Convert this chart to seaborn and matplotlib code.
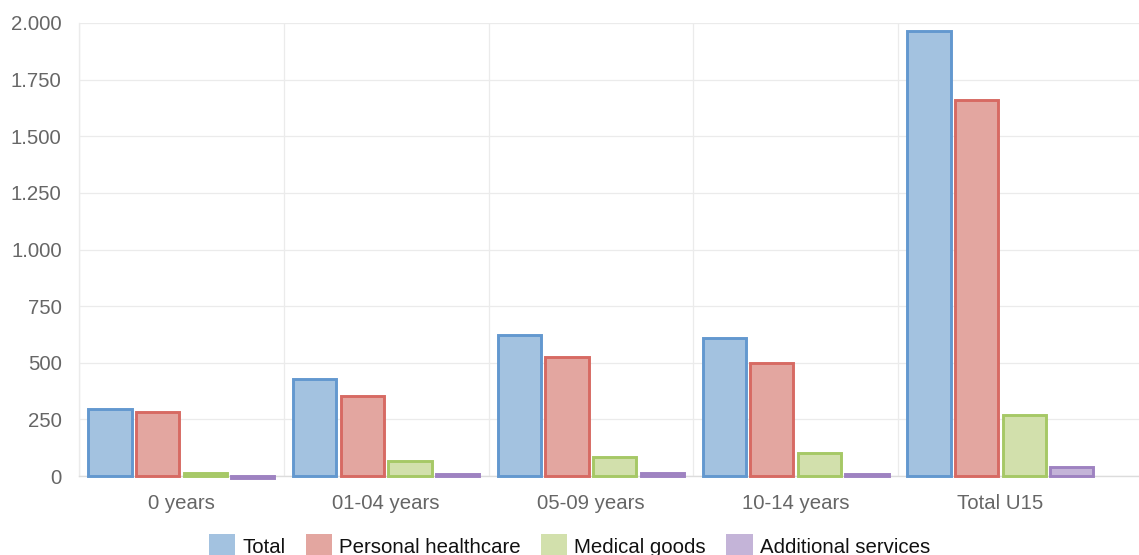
import matplotlib
matplotlib.use("Agg")
import matplotlib.pyplot as plt
from matplotlib.patches import Patch
from matplotlib.ticker import FuncFormatter, FixedLocator
import seaborn as sns
import pandas as pd

# Health expenditure by age group (per capita)
age_groups = ["0 years", "01-04 years", "05-09 years", "10-14 years", "Total U15"]
series_names = ["Total", "Personal healthcare", "Medical goods", "Additional services"]
total = [298, 430, 624, 610, 1965]
personal_healthcare = [284, 352, 524, 497, 1660]
medical_goods = [12, 66, 84, 101, 269]
additional_services = [-9, 9, 13, 9, 40]
y_ticks = [0, 250, 500, 750, 1000, 1250, 1500, 1750, 2000]

fill_colors = ["#a3c2e0", "#e3a6a0", "#d2e0ac", "#c4b4d8"]
edge_colors = ["#6398cf", "#d76a63", "#a6c866", "#9e82c1"]

values = [total, personal_healthcare, medical_goods, additional_services]
df = pd.DataFrame(
    [(g, s, v) for s, vals in zip(series_names, values) for g, v in zip(age_groups, vals)],
    columns=["group", "series", "value"],
)

sns.set_style("white")
plt.rcParams["font.family"] = ["Liberation Sans", "DejaVu Sans"]

W, H = 1139, 555
fig = plt.figure(figsize=(W / 100, H / 100), dpi=100)
ax = fig.add_axes([79 / W, 1 - 476 / H, 1 - 79 / W, (476 - 23) / H])

sns.barplot(
    data=df, x="group", y="value", hue="series",
    order=age_groups, hue_order=series_names,
    palette=fill_colors, saturation=1, width=0.93, gap=0.09,
    errorbar=None, linewidth=2.1, ax=ax, zorder=3,
)

for cont, ec in zip(ax.containers, edge_colors):
    for p in cont.patches:
        p.set_edgecolor(ec)
        p.set_linewidth(2.1)
        p.set_clip_on(False)

ax.set_xlim(-0.5, -0.5 + (W - 79) / 204.75)
ax.set_ylim(0, 2000)

grid_c = "#ebebeb"
for s in ["top", "right"]:
    ax.spines[s].set_visible(False)
ax.spines["left"].set_color(grid_c)
ax.spines["bottom"].set_color("#dcdcdc")
ax.spines["left"].set_linewidth(1)
ax.spines["bottom"].set_linewidth(1)

# y axis
ax.yaxis.set_major_locator(FixedLocator(y_ticks))
ax.yaxis.set_major_formatter(FuncFormatter(lambda v, _: f"{int(v):,}".replace(",", ".")))
ax.tick_params(axis="y", length=6.5, width=0.75, color=grid_c, pad=6,
               labelsize=14.7, labelcolor="#666666")
ax.grid(axis="y", color=grid_c, linewidth=0.9, zorder=0)

# x axis: labels at centres, separators between groups
ax.tick_params(axis="x", which="major", length=0, pad=13,
               labelsize=14.7, labelcolor="#666666")
ax.set_xticks([i - 0.5 for i in range(5)], minor=True)
ax.tick_params(axis="x", which="minor", length=6, width=0.75, color=grid_c)
ax.grid(axis="x", which="minor", color=grid_c, linewidth=0.9, zorder=0)
ax.grid(axis="x", which="major", visible=False)
ax.set_xlabel("")
ax.set_ylabel("")

if ax.get_legend() is not None:
    ax.get_legend().remove()

handles = [Patch(facecolor=c, edgecolor="none") for c in fill_colors]
fig.legend(
    handles, series_names, loc="upper center",
    bbox_to_anchor=(0.5, 1 - 534 / H), ncol=4, frameon=False,
    fontsize=14.7, handlelength=1.28, handleheight=1.45,
    handletextpad=0.35, columnspacing=1.0, borderpad=0, borderaxespad=0,
    labelcolor="#111111",
)

fig.savefig("out.png", dpi=100)
